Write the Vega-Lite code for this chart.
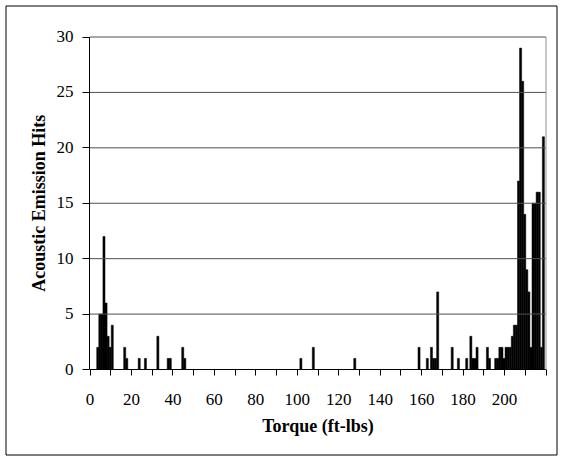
{
  "$schema": "https://vega.github.io/schema/vega-lite/v6.json",
  "width": 551,
  "height": 449,
  "padding": 5.5,
  "autosize": {"type": "none"},
  "background": "white",
  "config": {
    "view": {"stroke": "black", "strokeWidth": 1},
    "font": "Liberation Serif"
  },
  "layer": [
    {
      "data": {
        "values": [
          {"torque": 3, "hits": 2}, {"torque": 4, "hits": 5}, {"torque": 5, "hits": 5},
          {"torque": 6, "hits": 12}, {"torque": 7, "hits": 6}, {"torque": 8, "hits": 3},
          {"torque": 9, "hits": 2}, {"torque": 10, "hits": 4}, {"torque": 16, "hits": 2},
          {"torque": 17, "hits": 1}, {"torque": 23, "hits": 1}, {"torque": 26, "hits": 1},
          {"torque": 32, "hits": 3}, {"torque": 37, "hits": 1}, {"torque": 38, "hits": 1},
          {"torque": 44, "hits": 2}, {"torque": 45, "hits": 1}, {"torque": 101, "hits": 1},
          {"torque": 107, "hits": 2}, {"torque": 127, "hits": 1}, {"torque": 158, "hits": 2},
          {"torque": 162, "hits": 1}, {"torque": 164, "hits": 2}, {"torque": 165, "hits": 1},
          {"torque": 166, "hits": 1}, {"torque": 167, "hits": 7}, {"torque": 174, "hits": 2},
          {"torque": 177, "hits": 1}, {"torque": 181, "hits": 1}, {"torque": 183, "hits": 3},
          {"torque": 184, "hits": 1}, {"torque": 185, "hits": 1}, {"torque": 186, "hits": 2},
          {"torque": 191, "hits": 2}, {"torque": 192, "hits": 1}, {"torque": 195, "hits": 1},
          {"torque": 196, "hits": 1}, {"torque": 197, "hits": 2}, {"torque": 198, "hits": 2},
          {"torque": 199, "hits": 1}, {"torque": 200, "hits": 2}, {"torque": 201, "hits": 2},
          {"torque": 202, "hits": 2}, {"torque": 203, "hits": 3}, {"torque": 204, "hits": 4},
          {"torque": 205, "hits": 4}, {"torque": 206, "hits": 17}, {"torque": 207, "hits": 29},
          {"torque": 208, "hits": 26}, {"torque": 209, "hits": 14}, {"torque": 210, "hits": 9},
          {"torque": 211, "hits": 7}, {"torque": 212, "hits": 2}, {"torque": 213, "hits": 15},
          {"torque": 214, "hits": 15}, {"torque": 215, "hits": 16}, {"torque": 216, "hits": 16},
          {"torque": 217, "hits": 2}, {"torque": 218, "hits": 21}
        ]
      },
      "mark": {"type": "bar", "color": "black", "binSpacing": 0, "stroke": "black", "strokeWidth": 0.5},
      "encoding": {
        "x": {
          "field": "torque",
          "type": "quantitative",
          "bin": {"binned": true, "step": 1},
          "title": "Torque (ft-lbs)",
          "scale": {"domain": [0, 220], "range": [84.5, 540.5], "nice": false, "zero": false},
          "axis": {
            "orient": "bottom",
            "offset": -85,
            "translate": 0,
            "values": [0, 10, 20, 30, 40, 50, 60, 70, 80, 90, 100, 110, 120, 130, 140, 150, 160, 170, 180, 190, 200, 210, 220],
            "labelExpr": "datum.value % 20 === 0 && datum.value <= 200 ? datum.label : ''",
            "grid": false,
            "tickSize": 6,
            "tickColor": "black",
            "domainColor": "black",
            "labelFont": "Liberation Serif",
            "labelFontSize": 17,
            "labelColor": "black",
            "labelPadding": 16,
            "labelFlush": false,
            "labelOverlap": false,
            "titleFont": "Liberation Serif",
            "titleFontSize": 18,
            "titleFontWeight": "bold",
            "titleColor": "black",
            "titlePadding": 10
          }
        },
        "y": {
          "field": "hits",
          "type": "quantitative",
          "title": "Acoustic Emission Hits",
          "scale": {"domain": [0, 30], "range": [364, 31.5], "nice": false},
          "axis": {
            "orient": "left",
            "offset": -84,
            "translate": 0,
            "values": [0, 5, 10, 15, 20, 25, 30],
            "grid": false,
            "tickSize": 7,
            "tickColor": "black",
            "domainColor": "black",
            "labelFont": "Liberation Serif",
            "labelFontSize": 17,
            "labelColor": "black",
            "labelPadding": 9,
            "titleFont": "Liberation Serif",
            "titleFontSize": 18,
            "titleFontWeight": "bold",
            "titleColor": "black",
            "titlePadding": 8
          }
        }
      }
    },
    {
      "data": {"values": [{"hits": 5}, {"hits": 10}, {"hits": 15}, {"hits": 20}, {"hits": 25}, {"hits": 30}]},
      "mark": {"type": "rule", "color": "#505050", "strokeWidth": 1},
      "encoding": {
        "y": {"field": "hits", "type": "quantitative", "title": "Acoustic Emission Hits"},
        "x": {"datum": 0},
        "x2": {"datum": 220}
      }
    },
    {
      "data": {"values": [{"torque": 220}]},
      "mark": {"type": "rule", "color": "#909090", "strokeWidth": 1},
      "encoding": {
        "x": {"field": "torque", "type": "quantitative", "title": "Torque (ft-lbs)"},
        "y": {"datum": 0},
        "y2": {"datum": 30}
      }
    }
  ]
}
